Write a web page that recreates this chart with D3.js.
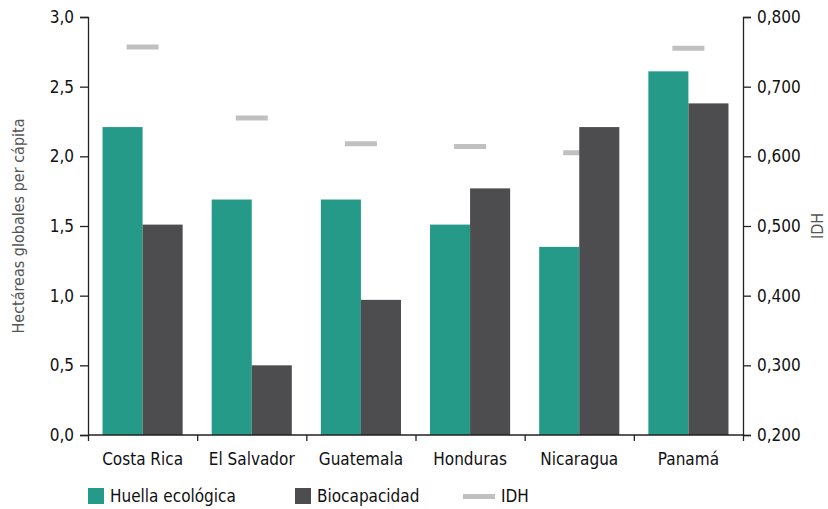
<!DOCTYPE html>
<html><head><meta charset="utf-8">
<script src="https://cdn.jsdelivr.net/npm/d3@7"></script>
<style>
body{margin:0;background:#fff;}
text{font-family:"DejaVu Sans Condensed",sans-serif;}
</style></head>
<body><svg id="c" width="828" height="509"></svg>
<script>
const categories = ["Costa Rica","El Salvador","Guatemala","Honduras","Nicaragua","Panamá"];
const huella = [2.21,1.69,1.69,1.51,1.35,2.61];
const biocap = [1.51,0.50,0.97,1.77,2.21,2.38];
const idh = [0.757,0.655,0.618,0.614,0.605,0.755];
const leftTicks = [0,0.5,1,1.5,2,2.5,3];
const rightTicks = [0.2,0.3,0.4,0.5,0.6,0.7,0.8];
const seriesNames = ["Huella ecológica","Biocapacidad","IDH"];
const colors = ["#259a88","#4d4d4f","#c0c0c0"];

const svg = d3.select("#c");
const L=88,R=743,T=17,B=435;
const x = d3.scaleBand().domain(categories).range([L,R]).paddingInner(0.266).paddingOuter(0.133);
const y = d3.scaleLinear().domain([0,3]).range([B,T]);
const y2 = d3.scaleLinear().domain([0.2,0.8]).range([B,T]);
const bw = x.bandwidth()/2;

// IDH markers (behind bars)
svg.append("g").selectAll("line").data(categories).join("line")
  .attr("x1",(d)=>x(d)+x.bandwidth()/2-16).attr("x2",(d)=>x(d)+x.bandwidth()/2+16)
  .attr("y1",(d,i)=>y2(idh[i])).attr("y2",(d,i)=>y2(idh[i]))
  .attr("stroke",colors[2]).attr("stroke-width",5);

svg.append("g").selectAll("rect").data(categories).join("rect")
  .attr("x",d=>x(d)).attr("width",bw)
  .attr("y",(d,i)=>y(huella[i])).attr("height",(d,i)=>B-y(huella[i]))
  .attr("fill",colors[0]);
svg.append("g").selectAll("rect").data(categories).join("rect")
  .attr("x",d=>x(d)+bw).attr("width",bw)
  .attr("y",(d,i)=>y(biocap[i])).attr("height",(d,i)=>B-y(biocap[i]))
  .attr("fill",colors[1]);

const fmt1 = d3.format(".1f"), fmt3 = d3.format(".3f");
const ga = svg.append("g").attr("transform",`translate(${L},0)`)
  .call(d3.axisLeft(y).tickValues(leftTicks).tickSize(8).tickPadding(6).tickFormat(d=>fmt1(d).replace(".",",")));
const gb = svg.append("g").attr("transform",`translate(${R},0)`)
  .call(d3.axisRight(y2).tickValues(rightTicks).tickSize(8).tickPadding(6).tickFormat(d=>fmt3(d).replace(".",",")));
const xb = d3.scaleLinear().domain([0,6]).range([L,R]);
const gx = svg.append("g").attr("transform",`translate(0,${B})`)
  .call(d3.axisBottom(xb).tickValues(d3.range(7)).tickSize(6).tickFormat(""));
[ga,gb,gx].forEach(g=>{
  g.select(".domain").attr("stroke","#222").attr("stroke-width",1.3);
  g.selectAll(".tick line").attr("stroke","#222").attr("stroke-width",1.3);
  g.selectAll("text").attr("font-size",17).attr("fill","#111")
   .style("font-family",'"DejaVu Sans Condensed",sans-serif');
});
gx.select(".domain").attr("d",`M${L},0H${R}`);

svg.append("g").selectAll("text").data(categories).join("text")
  .attr("x",d=>x(d)+x.bandwidth()/2).attr("y",465)
  .attr("text-anchor","middle").attr("font-size",17).attr("fill","#111").text(d=>d);

svg.append("text").attr("transform",`translate(24,${(T+B)/2}) rotate(-90)`)
  .attr("text-anchor","middle").attr("font-size",16).attr("fill","#555")
  .text("Hectáreas globales per cápita");
svg.append("text").attr("transform",`translate(823,${(T+B)/2}) rotate(-90)`)
  .attr("text-anchor","middle").attr("font-size",16).attr("fill","#555").text("IDH");

// legend
const lg = svg.append("g");
const lx = [88,295,463];
lg.append("rect").attr("x",lx[0]).attr("y",488).attr("width",16).attr("height",16).attr("fill",colors[0]);
lg.append("rect").attr("x",lx[1]).attr("y",488).attr("width",16).attr("height",16).attr("fill",colors[1]);
lg.append("line").attr("x1",lx[2]).attr("x2",lx[2]+32).attr("y1",496.5).attr("y2",496.5).attr("stroke",colors[2]).attr("stroke-width",5);
lg.selectAll("text").data(seriesNames).join("text")
  .attr("x",(d,i)=>i<2?lx[i]+22:lx[2]+38).attr("y",502)
  .attr("font-size",17).attr("fill","#111").text(d=>d);
</script></body></html>
